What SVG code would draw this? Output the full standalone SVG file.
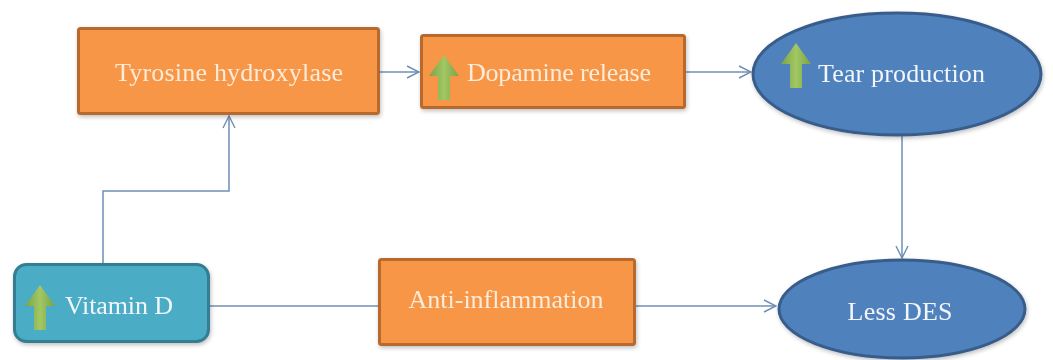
<svg xmlns="http://www.w3.org/2000/svg" width="1053" height="360" viewBox="0 0 1053 360">
<defs>
<marker id="arr" viewBox="0 0 14 14" refX="13" refY="7" markerWidth="14" markerHeight="14" markerUnits="userSpaceOnUse" orient="auto">
<path d="M1,1 L13,7 L1,13" fill="none" stroke="#6F8FB4" stroke-width="1.4"/>
</marker>
<linearGradient id="gup" x1="0" y1="0" x2="1" y2="0">
<stop offset="0" stop-color="#7AA346"/>
<stop offset="0.5" stop-color="#A2C764"/>
<stop offset="1" stop-color="#7AA346"/>
</linearGradient>
<filter id="sh" x="-10%" y="-10%" width="120%" height="130%">
<feGaussianBlur in="SourceAlpha" stdDeviation="2"/>
<feOffset dx="1" dy="2"/>
<feComponentTransfer><feFuncA type="linear" slope="0.25"/></feComponentTransfer>
<feMerge><feMergeNode/><feMergeNode in="SourceGraphic"/></feMerge>
</filter>
<path id="up" d="M0,0 L15,21 L6,21 L6,45 L-6,45 L-6,21 L-15,21 Z"/>
</defs>
<style>
.ob{fill:#F79646;stroke:#B8692E;stroke-width:3}
.tb{fill:#4BACC6;stroke:#357D92;stroke-width:3}
.el{fill:#4F81BD;stroke:#385D8A;stroke-width:3}
.t{font-family:"Liberation Serif","Times New Roman",serif;font-size:26px}
.to{fill:#FCEBD9}
.tw{fill:#F2F6FB}
.c{fill:none;stroke:#6F8FB4;stroke-width:1.5}
.g{fill:url(#gup)}
</style>
<rect width="1053" height="360" fill="#FFFFFF"/>
<g id="connectors">
<path class="c" d="M103,263 L103,191 L229,191 L229,116" marker-end="url(#arr)"/>
<path class="c" d="M380,72 L419,72" marker-end="url(#arr)"/>
<path class="c" d="M686,72 L751,72" marker-end="url(#arr)"/>
<path class="c" d="M902,135 L902,258" marker-end="url(#arr)"/>
<path class="c" d="M209,306 L378,306"/>
<path class="c" d="M636,306 L776,306" marker-end="url(#arr)"/>
</g>
<g id="tyrosine" filter="url(#sh)">
<rect class="ob" x="78.5" y="28.5" width="300" height="85" rx="2"/>
<text class="t to" x="229" y="81" text-anchor="middle" textLength="228" lengthAdjust="spacing">Tyrosine hydroxylase</text>
</g>
<g id="dopamine" filter="url(#sh)">
<rect class="ob" x="421.5" y="35.5" width="263" height="72" rx="2"/>
<use href="#up" class="g" x="444" y="55"/>
<text class="t to" x="467" y="81" textLength="184" lengthAdjust="spacing">Dopamine release</text>
</g>
<g id="tear" filter="url(#sh)">
<ellipse class="el" cx="897" cy="74" rx="144" ry="61"/>
<use href="#up" class="g" x="796" y="43"/>
<text class="t tw" x="818" y="82" font-size="27" textLength="167" lengthAdjust="spacing">Tear production</text>
</g>
<g id="vitamind" filter="url(#sh)">
<rect class="tb" x="14.5" y="264.5" width="194" height="77" rx="12"/>
<use href="#up" class="g" x="40" y="285"/>
<text class="t tw" x="65" y="314" textLength="108" lengthAdjust="spacing">Vitamin D</text>
</g>
<g id="antiinflammation" filter="url(#sh)">
<rect class="ob" x="379.5" y="259.5" width="255" height="85" rx="2"/>
<text class="t to" x="506" y="308" text-anchor="middle" textLength="195" lengthAdjust="spacing">Anti-inflammation</text>
</g>
<g id="lessdes" filter="url(#sh)">
<ellipse class="el" cx="902" cy="309" rx="123" ry="49"/>
<text class="t tw" x="900" y="320" text-anchor="middle" textLength="105" lengthAdjust="spacing">Less DES</text>
</g>
</svg>
